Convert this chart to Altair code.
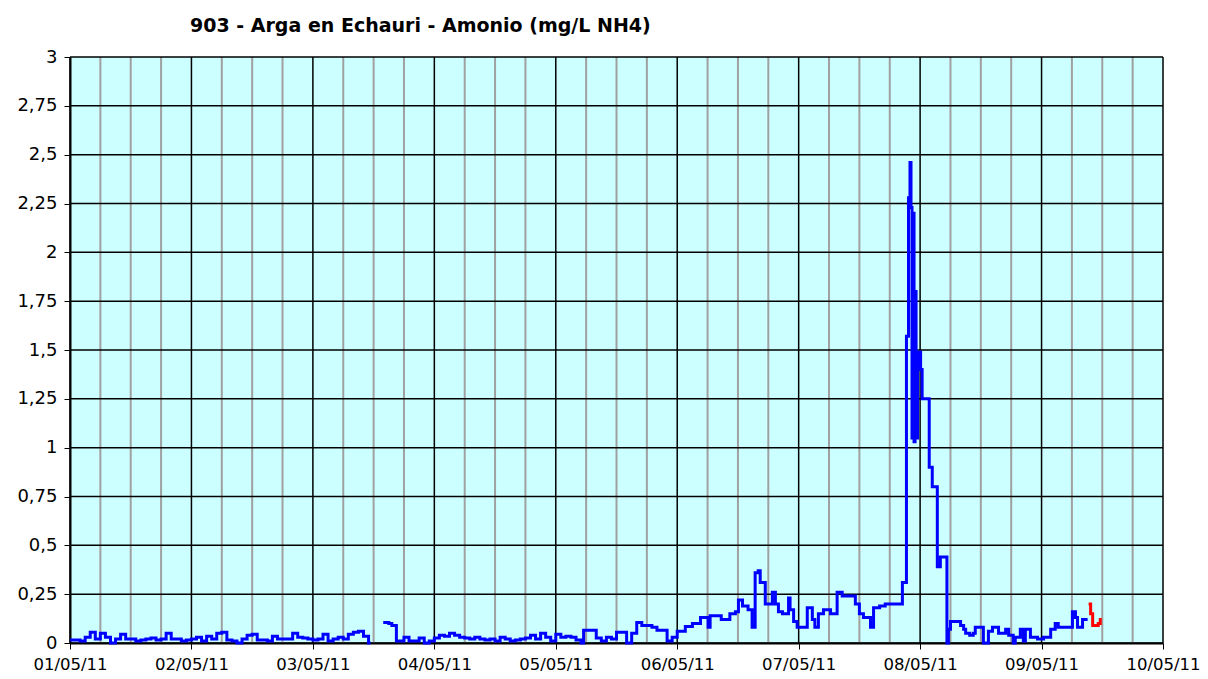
import altair as alt
import pandas as pd

TITLE = "903 - Arga en Echauri - Amonio (mg/L NH4)"

# x positions are hours since 01/05/11 00:00
day_ticks = [0, 24, 48, 72, 96, 120, 144, 168, 192, 216]
day_labels = ["01/05/11", "02/05/11", "03/05/11", "04/05/11", "05/05/11",
              "06/05/11", "07/05/11", "08/05/11", "09/05/11", "10/05/11"]
minor_ticks = [6, 12, 18, 30, 36, 42, 54, 60, 66, 78, 84, 90, 102, 108, 114,
               126, 132, 138, 150, 156, 162, 174, 180, 186, 198, 204, 210]
y_ticks = [0, 0.25, 0.5, 0.75, 1, 1.25, 1.5, 1.75, 2, 2.25, 2.5, 2.75, 3]

# first blue stretch (hourly)
hours_a = list(range(60)) + [59.4]
vals_a = [0.015, 0.015, 0.01, 0.03, 0.055, 0.02, 0.05, 0.03, 0.0, 0.02,
          0.045, 0.02, 0.02, 0.01, 0.015, 0.02, 0.025, 0.015, 0.02, 0.05,
          0.02, 0.02, 0.01, 0.015,
          0.02, 0.03, 0.01, 0.035, 0.02, 0.05, 0.055, 0.015, 0.01, 0.0,
          0.02, 0.04, 0.045, 0.015, 0.015, 0.01, 0.035, 0.02, 0.02, 0.02,
          0.05, 0.03, 0.025, 0.02,
          0.015, 0.02, 0.045, 0.01, 0.02, 0.03, 0.02, 0.045, 0.055, 0.06,
          0.035, 0.0, 0.0]

# second blue stretch
hours_b = [61.9, 63.0, 63.6, 64.5, 65, 66, 67, 68, 69, 70, 71,
           72, 73, 74, 75, 76, 77, 78, 79, 80, 81, 82, 83, 84, 85, 86, 87,
           88, 89, 90, 91, 92, 93, 94, 95,
           96, 97, 98, 99, 100, 101, 101.5, 103, 104, 105, 106, 107, 108,
           110, 111, 112, 113, 115, 116, 118, 119,
           120, 121.6, 123, 124.6, 126.1, 126.5, 128.7, 130.4, 131.5, 132.1,
           132.9, 134, 134.8, 135.4, 136.0, 136.4, 137.4, 138.8, 139.4, 140,
           140.8, 142, 142.3, 143, 143.7,
           145.7, 146.7, 147.2, 147.9, 148.9, 150.3, 151.6, 152.6, 155.2,
           156.0, 156.8, 158.2, 158.8, 160.0, 161.1, 164.5, 165.3, 165.7,
           166.0, 166.2, 166.4, 166.6, 166.8, 167.0, 167.2, 167.5, 167.7,
           168.1, 168.4, 169.8, 170.4, 171.4, 172.0, 173.3, 173.6, 174.0,
           176.0, 176.6, 177.0, 177.8, 178.5, 178.9, 180.5, 181.5, 182.3,
           183.5, 184.9, 185.5, 186.4, 186.8, 187.8, 188.4, 188.8, 189.8,
           191.2, 192.4, 193.8, 194.7, 195.3, 198.1, 198.7, 199.1, 200.1,
           201.1]
vals_b = [0.105, 0.10, 0.09, 0.01, 0.01, 0.03, 0.01, 0.01, 0.025, 0.0, 0.01,
          0.025, 0.04, 0.035, 0.05, 0.04, 0.03, 0.025, 0.02, 0.03, 0.02,
          0.015, 0.02, 0.01, 0.03, 0.02, 0.01, 0.015, 0.02, 0.025, 0.04,
          0.02, 0.05, 0.03, 0.01,
          0.045, 0.03, 0.035, 0.03, 0.015, 0.0, 0.065, 0.065, 0.025, 0.01,
          0.03, 0.02, 0.055, 0.0, 0.05, 0.105, 0.09, 0.08, 0.065, 0.01, 0.03,
          0.06, 0.085, 0.10, 0.13, 0.08, 0.14, 0.12, 0.15, 0.16, 0.22,
          0.19, 0.17, 0.08, 0.36, 0.37, 0.31, 0.20, 0.26, 0.20, 0.16,
          0.15, 0.23, 0.17, 0.11, 0.08,
          0.18, 0.12, 0.08, 0.15, 0.17, 0.15, 0.26, 0.24, 0.20,
          0.15, 0.13, 0.08, 0.18, 0.19, 0.20, 0.31, 1.57, 2.28,
          2.46, 2.23, 1.05, 2.20, 1.03, 1.80, 1.05, 1.40, 1.49,
          1.40, 1.25, 0.90, 0.80, 0.39, 0.44, 0.0, 0.07, 0.11,
          0.09, 0.07, 0.05, 0.04, 0.05, 0.08, 0.0, 0.06, 0.08,
          0.05, 0.07, 0.04, 0.0, 0.03, 0.07, 0.01, 0.07, 0.03,
          0.02, 0.03, 0.07, 0.10, 0.08, 0.16, 0.13, 0.08, 0.12,
          0.12]

# red (latest, unvalidated) stretch
hours_r = [201.3, 201.7, 202.1, 203.2, 203.6, 203.9]
vals_r = [0.20, 0.15, 0.09, 0.10, 0.12, 0.12]

rows = []
for seg, hs, vs in (("a", hours_a, vals_a), ("b", hours_b, vals_b), ("r", hours_r, vals_r)):
    for h, v in zip(hs, vs):
        rows.append({"hour": h, "value": v, "seg": seg})
df = pd.DataFrame(rows)

xscale = alt.Scale(domain=[0, 216], nice=False, zero=False)
yscale = alt.Scale(domain=[0, 3], nice=False)

label_expr = "[" + ",".join("'%s'" % s for s in day_labels) + "][round(datum.value / 24)]"

x_axis = alt.Axis(values=day_ticks, labelExpr=label_expr, grid=False,
                  domainColor="black", domainWidth=2, tickColor="black",
                  tickWidth=1, tickSize=6, labelFontSize=16.5, labelColor="black",
                  labelFont="DejaVu Sans", labelPadding=7, title=None,
                  labelFlush=False, labelOverlap=False)
y_axis = alt.Axis(values=y_ticks,
                  labelExpr="replace(format(datum.value, '.2~f'), '.', ',')",
                  grid=False, domainColor="black", domainWidth=2,
                  tickColor="black", tickWidth=1, tickSize=6, labelFontSize=18,
                  labelColor="black", labelFont="DejaVu Sans", labelPadding=7,
                  title=None, labelFlush=False, labelOverlap=False)

minor = alt.Chart(pd.DataFrame({"hour": minor_ticks})).mark_rule(
    color="#a0a0a0", strokeWidth=2
).encode(x=alt.X("hour:Q", scale=xscale, axis=x_axis))

hgrid = alt.Chart(pd.DataFrame({"v": y_ticks})).mark_rule(
    color="black", strokeWidth=1.5
).encode(y=alt.Y("v:Q", scale=yscale, axis=y_axis))

vgrid = alt.Chart(pd.DataFrame({"hour": day_ticks})).mark_rule(
    color="black", strokeWidth=1.5
).encode(x=alt.X("hour:Q", scale=xscale, axis=x_axis))

line = alt.Chart(df).mark_line(interpolate="step-after", strokeWidth=3).encode(
    x=alt.X("hour:Q", scale=xscale, axis=x_axis),
    y=alt.Y("value:Q", scale=yscale, axis=y_axis),
    detail="seg:N",
    color=alt.Color("seg:N", scale=alt.Scale(domain=["a", "b", "r"],
                                             range=["#0000ff", "#0000ff", "#ff0000"]),
                    legend=None),
)

chart = alt.layer(minor, hgrid, vgrid, line).properties(
    width=1093,
    height=586,
    autosize=alt.AutoSizeParams(type="none"),
    padding={"left": 62, "top": 49, "right": 37, "bottom": 33},
    title=alt.Title(TITLE, anchor="start", frame="group", dx=120, offset=12,
                    fontSize=19, fontWeight="bold", font="DejaVu Sans",
                    color="black"),
).configure_view(
    fill="#ccffff", stroke=None
)

chart.save("out.html", embed_options={"renderer": "svg", "actions": False})
